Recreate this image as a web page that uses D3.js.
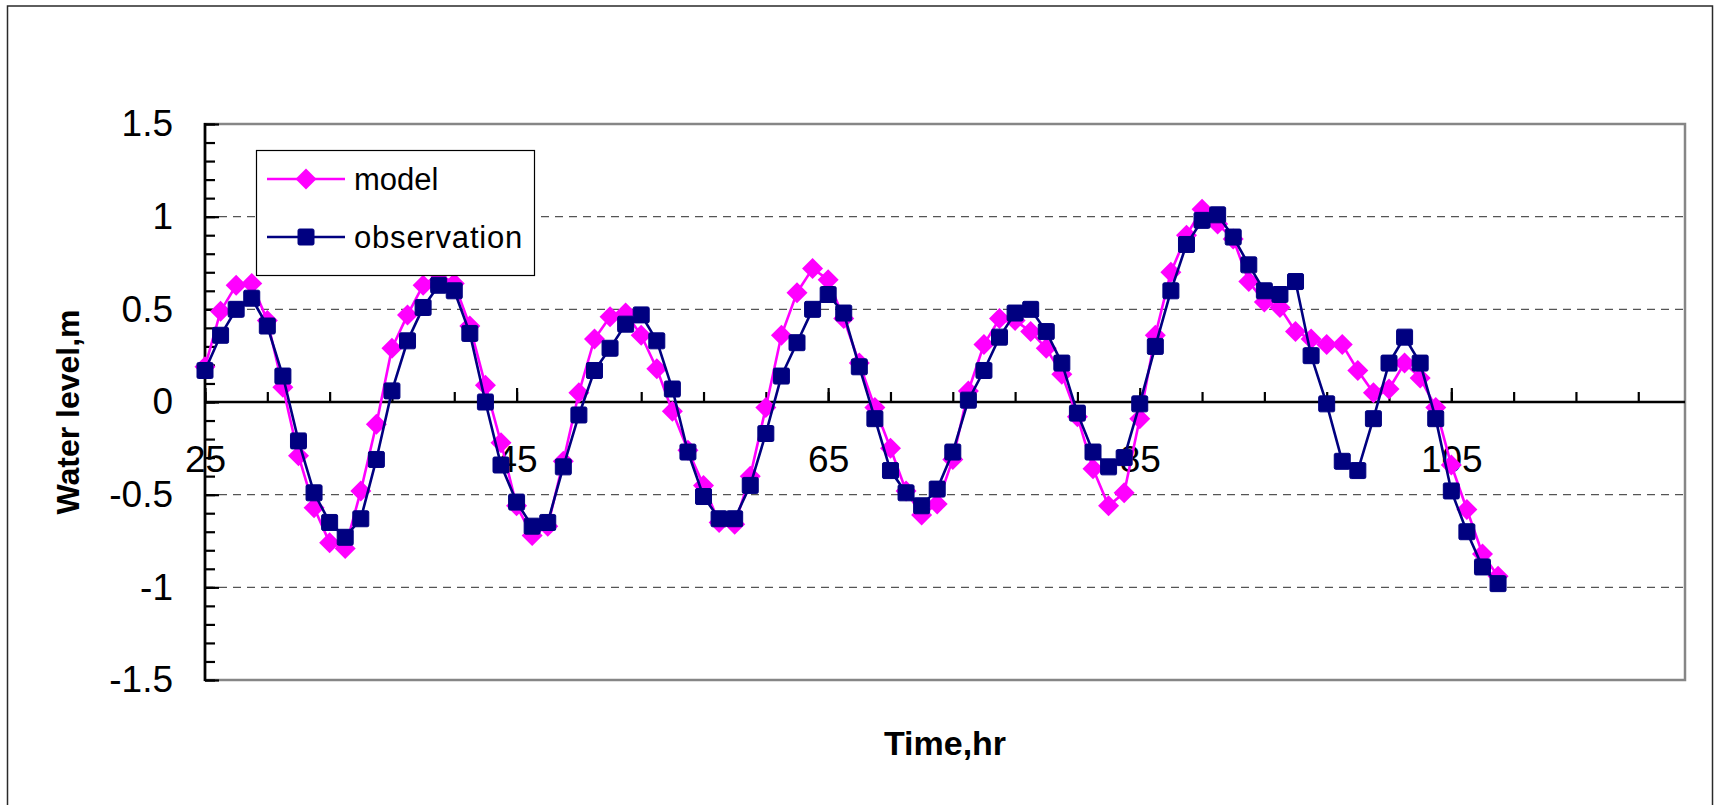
<!DOCTYPE html>
<html>
<head>
<meta charset="utf-8">
<script src="https://cdn.jsdelivr.net/npm/d3@7"></script>
<style>
  html, body { margin: 0; padding: 0; background: #fff; }
  svg { display: block; font-family: "Liberation Sans", Arial, sans-serif; }
</style>
</head>
<body>
<svg id="chart" width="1715" height="805"></svg>
<script>
// ---- data ----
const hours = d3.range(25, 109); // 25 .. 108, hourly
const model = [0.19, 0.49, 0.63, 0.64, 0.44, 0.08, -0.29, -0.57, -0.76, -0.79,
  -0.48, -0.12, 0.29, 0.47, 0.63, 0.69, 0.64, 0.41, 0.09, -0.22,
  -0.56, -0.72, -0.67, -0.32, 0.05, 0.34, 0.46, 0.48, 0.36, 0.18,
  -0.05, -0.26, -0.45, -0.65, -0.66, -0.40, -0.03, 0.36, 0.59, 0.72,
  0.66, 0.45, 0.21, -0.03, -0.25, -0.48, -0.61, -0.55, -0.31, 0.06,
  0.31, 0.45, 0.44, 0.38, 0.29, 0.15, -0.08, -0.36, -0.56, -0.49,
  -0.09, 0.36, 0.70, 0.90, 1.04, 0.96, 0.88, 0.65, 0.54, 0.51,
  0.38, 0.34, 0.31, 0.31, 0.17, 0.05, 0.07, 0.21, 0.13, -0.03,
  -0.34, -0.58, -0.82, -0.94];
const observation = [0.17, 0.36, 0.50, 0.56, 0.41, 0.14, -0.21, -0.49, -0.65, -0.73,
  -0.63, -0.31, 0.06, 0.33, 0.51, 0.63, 0.60, 0.37, 0.00, -0.34,
  -0.54, -0.67, -0.65, -0.35, -0.07, 0.17, 0.29, 0.42, 0.47, 0.33,
  0.07, -0.27, -0.51, -0.63, -0.63, -0.45, -0.17, 0.14, 0.32, 0.50,
  0.58, 0.48, 0.19, -0.09, -0.37, -0.49, -0.56, -0.47, -0.27, 0.01,
  0.17, 0.35, 0.48, 0.50, 0.38, 0.21, -0.06, -0.27, -0.35, -0.30,
  -0.01, 0.30, 0.60, 0.85, 0.98, 1.01, 0.89, 0.74, 0.60, 0.58,
  0.65, 0.25, -0.01, -0.32, -0.37, -0.09, 0.21, 0.35, 0.21, -0.09,
  -0.48, -0.70, -0.89, -0.98];
const xLabelTicks = [25, 45, 65, 85, 105];
const xMinorTicks = d3.range(25, 120, 4);
const yMajorTicks = [-1.5, -1, -0.5, 0, 0.5, 1, 1.5];
const yMinorTicks = d3.range(-15, 16).map(v => v / 10);
const yGridTicks = [-1, -0.5, 0.5, 1];
const seriesNames = ["model", "observation"];

// ---- layout ----
const L = 205, R = 1685, T = 124, B = 680;
const svg = d3.select("#chart");
const x = d3.scaleLinear().domain([25, 120]).range([L, R]);
const y = d3.scaleLinear().domain([-1.5, 1.5]).range([B, T]);
const fmt = v => String(v);

// outer chart border
svg.append("rect").attr("x", 7.5).attr("y", 6).attr("width", 1705).attr("height", 900)
  .attr("fill", "none").attr("stroke", "#2a2a2a").attr("stroke-width", 1.5);

// plot area border (gray)
svg.append("rect").attr("x", L).attr("y", T).attr("width", R - L).attr("height", B - T)
  .attr("fill", "#fff").attr("stroke", "#868686").attr("stroke-width", 2.5);

// dashed gridlines
svg.append("g").selectAll("line").data(yGridTicks).join("line")
  .attr("x1", L).attr("x2", R).attr("y1", d => y(d)).attr("y2", d => y(d))
  .attr("stroke", "#555").attr("stroke-width", 1.2).attr("stroke-dasharray", "8,6");

// x tick labels (below zero line)
const gxLab = svg.append("g").attr("transform", `translate(0,${y(0)})`)
  .call(d3.axisBottom(x).tickValues(xLabelTicks).tickFormat(fmt).tickSize(0).tickPadding(44));
gxLab.select(".domain").remove();
gxLab.selectAll("text").attr("font-size", 37).attr("font-family", "Liberation Sans, Arial, sans-serif").attr("fill", "#000");

// y tick labels
const gyLab = svg.append("g").attr("transform", `translate(${L},0)`)
  .call(d3.axisLeft(y).tickValues(yMajorTicks).tickFormat(fmt).tickSize(0).tickPadding(32));
gyLab.select(".domain").remove();
gyLab.selectAll("text").attr("font-size", 37).attr("font-family", "Liberation Sans, Arial, sans-serif").attr("fill", "#000");

// x axis ticks (upward from zero line)
const gxMin = svg.append("g").attr("transform", `translate(0,${y(0)})`)
  .call(d3.axisTop(x).tickValues(xMinorTicks).tickFormat("").tickSize(10));
gxMin.select(".domain").remove();
gxMin.selectAll("line").attr("stroke", "#000").attr("stroke-width", 2.2);
const gxMaj = svg.append("g").attr("transform", `translate(0,${y(0)})`)
  .call(d3.axisTop(x).tickValues(xLabelTicks).tickFormat("").tickSize(14));
gxMaj.select(".domain").remove();
gxMaj.selectAll("line").attr("stroke", "#000").attr("stroke-width", 2.2);

// y axis ticks (inside)
const gyMin = svg.append("g").attr("transform", `translate(${L},0)`)
  .call(d3.axisRight(y).tickValues(yMinorTicks).tickFormat("").tickSize(10));
gyMin.select(".domain").remove();
gyMin.selectAll("line").attr("stroke", "#000").attr("stroke-width", 2.2);
const gyMaj = svg.append("g").attr("transform", `translate(${L},0)`)
  .call(d3.axisRight(y).tickValues(yMajorTicks).tickFormat("").tickSize(14));
gyMaj.select(".domain").remove();
gyMaj.selectAll("line").attr("stroke", "#000").attr("stroke-width", 2.2);

// axis lines
svg.append("line").attr("x1", L).attr("x2", R).attr("y1", y(0)).attr("y2", y(0))
  .attr("stroke", "#000").attr("stroke-width", 2.6);
svg.append("line").attr("x1", L).attr("x2", L).attr("y1", T - 1).attr("y2", B + 1)
  .attr("stroke", "#000").attr("stroke-width", 2.6);

// series
const colors = { model: "#ff00ff", observation: "#000080" };
const R_D = 10.5, S_Q = 16;
function diamond(cx, cy, r) {
  return `M${cx},${cy - r}L${cx + r},${cy}L${cx},${cy + r}L${cx - r},${cy}Z`;
}
const line = d3.line().x(d => x(d[0])).y(d => y(d[1]));

const modelPts = hours.map((h, i) => [h, model[i]]);
const obsPts = hours.map((h, i) => [h, observation[i]]);

svg.append("path").datum(modelPts).attr("d", line)
  .attr("fill", "none").attr("stroke", colors.model).attr("stroke-width", 2.6);
svg.append("g").selectAll("path").data(modelPts).join("path")
  .attr("d", d => diamond(x(d[0]), y(d[1]), R_D)).attr("fill", colors.model);

svg.append("path").datum(obsPts).attr("d", line)
  .attr("fill", "none").attr("stroke", colors.observation).attr("stroke-width", 2.6);
svg.append("g").selectAll("rect").data(obsPts).join("rect")
  .attr("x", d => x(d[0]) - S_Q / 2).attr("y", d => y(d[1]) - S_Q / 2)
  .attr("width", S_Q).attr("height", S_Q).attr("rx", 1.5)
  .attr("fill", colors.observation).attr("stroke", colors.observation).attr("stroke-width", 1);

// legend
const lg = svg.append("g");
lg.append("rect").attr("x", 256.5).attr("y", 150.5).attr("width", 278).attr("height", 125)
  .attr("fill", "#fff").attr("stroke", "#000").attr("stroke-width", 1.2);
const rows = [{ name: seriesNames[0], yy: 179 }, { name: seriesNames[1], yy: 237 }];
rows.forEach(r => {
  lg.append("line").attr("x1", 267).attr("x2", 345).attr("y1", r.yy).attr("y2", r.yy)
    .attr("stroke", colors[r.name]).attr("stroke-width", 2.6);
  if (r.name === "model") {
    lg.append("path").attr("d", diamond(306, r.yy, R_D)).attr("fill", colors.model);
  } else {
    lg.append("rect").attr("x", 306 - S_Q / 2).attr("y", r.yy - S_Q / 2).attr("width", S_Q).attr("height", S_Q)
      .attr("rx", 1.5).attr("fill", colors.observation).attr("stroke", colors.observation);
  }
  lg.append("text").attr("x", 354).attr("y", r.yy).attr("dy", "0.35em")
    .attr("font-size", 31).attr("fill", "#000")
    .attr("letter-spacing", r.name === "observation" ? 0.8 : 0).text(r.name);
});

// axis titles
svg.append("text").attr("x", (L + R) / 2).attr("y", 755).attr("text-anchor", "middle")
  .attr("font-size", 34).attr("font-weight", "bold").attr("fill", "#000").text("Time,hr");
svg.append("text").attr("transform", `translate(79,${(T + B) / 2 + 10}) rotate(-90)`)
  .attr("text-anchor", "middle").attr("font-size", 32).attr("font-weight", "bold")
  .attr("fill", "#000").text("Water level,m");
</script>
</body>
</html>
